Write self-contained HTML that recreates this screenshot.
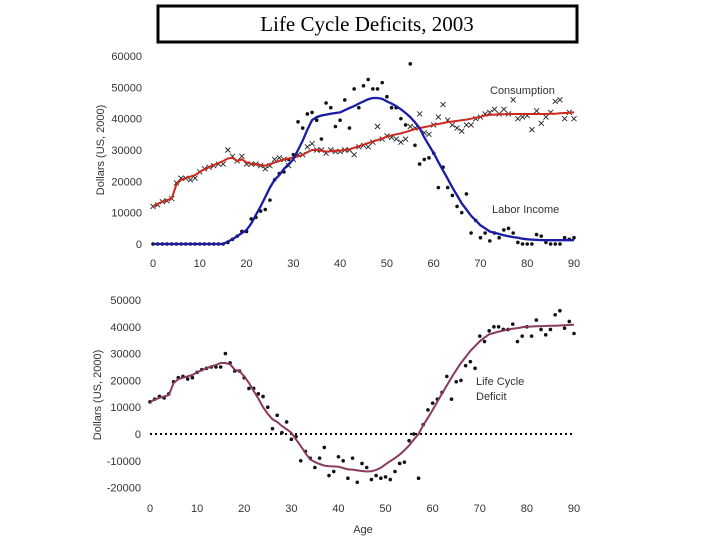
<!DOCTYPE html>
<html><head><meta charset="utf-8"><style>
body{margin:0;background:#fff;width:720px;height:540px;overflow:hidden}
svg text{font-family:"Liberation Sans",sans-serif;font-size:11px;fill:#333}
</style></head><body>
<svg id="c" width="720" height="540">
<rect x="158" y="6" width="419" height="36" fill="#fff" stroke="#000" stroke-width="3"/>
<text x="367" y="31" text-anchor="middle" style="font-family:'Liberation Serif',serif;font-size:21px;fill:#000">Life Cycle Deficits, 2003</text>
<g id="topPanel"></g>
<g id="botPanel"></g>
</svg>
<script>
const ages=[...Array(91).keys()];
const xTicks=[0,10,20,30,40,50,60,70,80,90];
const topYTicks=[0,10000,20000,30000,40000,50000,60000];
const botYTicks=[-20000,-10000,0,10000,20000,30000,40000,50000];
const consSmooth=[12000,12800,13500,14000,14500,19000,20500,21000,21500,22000,23000,23800,24500,25200,25800,26500,27300,27500,26500,27000,26000,25600,25400,25200,25000,25500,26000,26500,27000,27300,27500,28000,28500,29300,30000,30000,29800,29500,29600,29700,29800,30000,30200,30700,31200,31700,32200,32700,33200,33700,34200,34700,35000,35300,35700,36200,36700,37000,37300,37600,38000,38300,38600,38900,39100,39300,39500,39700,40000,40300,40600,41000,41200,41300,41400,41400,41500,41500,41500,41500,41500,41500,41500,41500,41500,41600,41600,41700,41800,41900,42000];
const laborSmooth=[0,0,0,0,0,0,0,0,0,0,0,0,0,0,0,0,800,1500,2500,3500,4500,6500,9300,12000,15000,18000,20500,22000,24000,25500,27000,30000,33000,36500,39500,40500,41000,41300,41600,41800,42000,42700,43400,44000,44800,45500,46200,46600,46600,46300,45500,44800,44000,43000,41800,40500,38800,37000,34000,31500,29000,26200,23500,20800,18000,15500,13000,11000,9000,7500,6000,5000,4000,3600,3200,2800,2500,2200,2000,1700,1500,1400,1300,1250,1200,1200,1200,1200,1200,1200,1200];
const consPts=[12000,12500,13500,13800,14500,19500,21000,21000,20500,21000,23000,24000,24500,25000,25500,25500,30000,28000,26500,28000,25500,25500,25500,25000,24000,25000,27000,27500,27000,25000,27000,28500,28500,31000,32000,30000,30000,29000,30000,29500,29500,30000,30000,28500,31000,31500,31000,32500,37500,33500,34500,34000,33500,32500,33500,37500,37000,41500,35500,35000,38000,40500,44500,39500,38000,37000,36000,38000,38000,40000,40500,41500,42000,43000,41500,43000,41500,46000,40000,40500,41000,36500,42500,38500,40500,42000,45500,46000,40000,42000,40000];
const laborPts=[0,0,0,0,0,0,0,0,0,0,0,0,0,0,0,0,500,1500,2500,4000,4000,8000,8500,10500,11000,14000,20500,22500,23000,27000,28500,39000,37000,41500,42000,39500,33500,45000,43500,37500,39500,46000,37000,49500,43500,50500,52500,49500,49500,51500,47000,43500,43500,40000,38000,57500,31500,25500,27000,27500,29000,18000,24500,18000,15500,12000,10000,16000,3500,7500,2000,3500,1000,3500,2000,4500,5000,3500,500,0,0,0,3000,2500,500,0,0,0,2000,1500,2000];
const defPts=[12000,13000,14000,13500,15000,19500,21000,21500,20500,21000,23000,24000,24500,25000,25000,25000,30000,26500,23500,23500,21000,17000,17000,15000,14000,10000,2000,7000,500,4500,-2000,-1000,-10000,-6500,-9000,-12500,-9000,-5000,-15500,-14000,-8500,-10000,-16500,-9000,-18000,-11000,-12500,-17000,-15500,-16500,-16000,-17000,-14000,-11000,-10500,-2500,0,-16500,3500,9000,11500,13000,15500,21500,13000,19500,20000,25500,27000,24500,36500,34500,38500,40000,40000,39000,39000,41000,34500,36500,40000,36500,42500,39000,37000,39000,44500,46000,39500,42000,37500];
const defSmooth=consSmooth.map((c,i)=>c-laborSmooth[i]);

const NS="http://www.w3.org/2000/svg";
function mk(p,tag,a){const e=document.createElementNS(NS,tag);for(const k in a)e.setAttribute(k,a[k]);p.appendChild(e);return e;}
const tx=a=>153+a*(574-153)/90;
const ty=v=>244-v*(244-56)/60000;
const bx=a=>150+a*(574-150)/90;
const by=v=>434-v*(434-300)/50000;
const topG=document.getElementById('topPanel'),botG=document.getElementById('botPanel');

topYTicks.forEach(v=>{const t=mk(topG,'text',{x:142,y:ty(v)+4,'text-anchor':'end'});t.textContent=v;

});
xTicks.forEach(v=>{const t=mk(topG,'text',{x:tx(v),y:267,'text-anchor':'middle'});t.textContent=v;

});
let yl=mk(topG,'text',{transform:'translate(104,150) rotate(-90)','text-anchor':'middle'});yl.textContent='Dollars (US, 2000)';



laborPts.forEach((v,i)=>{const c=mk(topG,'circle',{cx:tx(ages[i]),cy:ty(v),r:1.8,fill:'#111'});

});
consPts.forEach((v,i)=>{const x=tx(ages[i]),y=ty(v),d=2.5;const p=mk(topG,'path',{d:`M${x-d},${y-d}L${x+d},${y+d}M${x-d},${y+d}L${x+d},${y-d}`,stroke:'#222','stroke-width':0.9});

});
const line=(arr,fx,fy)=>arr.map((v,i)=>(i?'L':'M')+fx(ages[i]).toFixed(1)+','+fy(v).toFixed(1)).join('');
let lc=mk(topG,'path',{d:line(consSmooth,tx,ty),fill:'none',stroke:'#cc2a1e','stroke-width':2});


let ll=mk(topG,'path',{d:line(laborSmooth,tx,ty),fill:'none',stroke:'#1b1ba6','stroke-width':2.3});


let t1=mk(topG,'text',{x:490,y:94});t1.textContent='Consumption';


let t2=mk(topG,'text',{x:492,y:213});t2.textContent='Labor Income';



botYTicks.forEach(v=>{const t=mk(botG,'text',{x:141,y:by(v)+4,'text-anchor':'end'});t.textContent=v;

});
xTicks.forEach(v=>{const t=mk(botG,'text',{x:bx(v),y:512,'text-anchor':'middle'});t.textContent=v;

});
let yl2=mk(botG,'text',{transform:'translate(101,395) rotate(-90)','text-anchor':'middle'});yl2.textContent='Dollars (US, 2000)';


let xl=mk(botG,'text',{x:363,y:533,'text-anchor':'middle'});xl.textContent='Age';


let zl=mk(botG,'line',{x1:bx(0),x2:bx(90),y1:by(0),y2:by(0),stroke:'#000','stroke-width':2,'stroke-dasharray':'2,3'});


defPts.forEach((v,i)=>{const c=mk(botG,'circle',{cx:bx(ages[i]),cy:by(v),r:1.8,fill:'#111'});

});
let ld=mk(botG,'path',{d:line(defSmooth,bx,by),fill:'none',stroke:'#8a3a5c','stroke-width':2});


let t3=mk(botG,'text',{x:476,y:385});t3.textContent='Life Cycle';


let t4=mk(botG,'text',{x:476,y:400});t4.textContent='Deficit';


</script>
</body></html>
